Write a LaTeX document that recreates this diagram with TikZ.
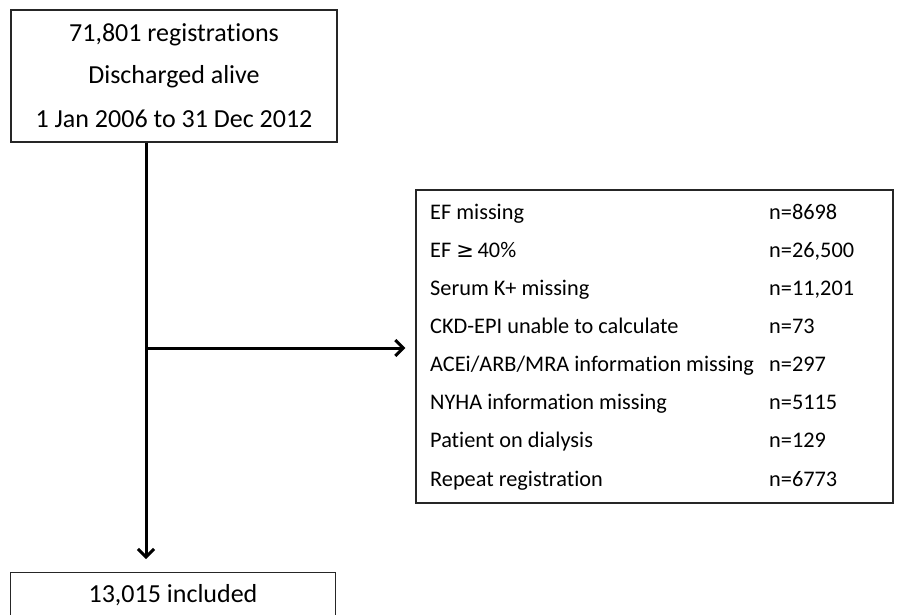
\documentclass[tikz,border=0pt]{standalone}
\usepackage{fontspec}
\setmainfont{Carlito}[Ligatures=NoCommon]
\newfontfamily\symfont{DejaVu Sans}
\usetikzlibrary{arrows.meta}
\begin{document}
\begin{tikzpicture}[x=1pt,y=-1pt,
  box/.style={draw=black!85,line width=1.2pt,inner sep=0pt},
  conn/.style={line width=3pt,-{Straight Barb[length=8pt,width=16pt,line width=3pt]}},
  txt/.style={inner sep=0pt,anchor=base,font=\fontsize{26}{30}\selectfont},
  rtxt/.style={inner sep=0pt,anchor=base west,font=\fontsize{22.3}{26}\selectfont}]
\useasboundingbox (0,0) rectangle (902,615);
\fill[white] (0,0) rectangle (902,615);
% top box
\node[box,minimum width=326pt,minimum height=132pt] (top) at (174,76) {};
\node[txt] (t1) at (174,41.7) {71,801 registrations};
\node[txt] (t2) at (174,84) {Discharged alive};
\node[txt] (t3) at (174,127.5) {1 Jan 2006 to 31 Dec 2012};
% right box
\node[box,minimum width=477pt,minimum height=313pt] (excl) at (654.5,346.5) {};
\foreach \i/\a/\b in {0/{EF missing}/{n=8698},
  1/{EF {\symfont\fontsize{21}{24}\selectfont≥}\,40\%}/{n=26,500},
  2/{Serum K+ missing}/{n=11,201},
  3/{CKD-EPI unable to calculate}/{n=73},
  4/{ACEi\slash ARB\slash MRA information missing}/{n=297},
  5/{NYHA information missing}/{n=5115},
  6/{Patient on dialysis}/{n=129},
  7/{Repeat registration}/{n=6773}}{
  \node[rtxt] (l\i) at (430,{219.3+38.1*\i}) {\a};
  \node[rtxt] (v\i) at (769,{219.3+38.1*\i}) {\b};
}
% bottom box
\node[box,minimum width=325pt,minimum height=70pt,anchor=north] (bot) at (173,572) {};
\node[txt] (b1) at (173,602.7) {13,015 included};
% connectors
\coordinate (split) at (146,348);
\draw[line width=3pt] (top.south -| split) -- (split);
\draw[conn] (top.south -| split) -- ([yshift=13pt]bot.north -| split);
\draw[conn] (split) -- ([xshift=-10pt]excl.west |- split);
\end{tikzpicture}
\end{document}
